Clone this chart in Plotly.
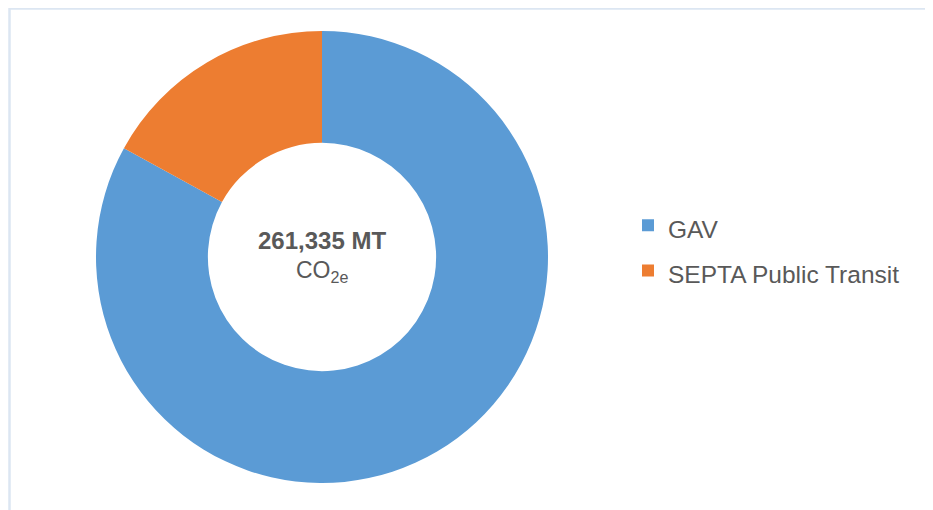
import plotly.graph_objects as go

labels = ["GAV", "SEPTA Public Transit"]
values = [216900, 44435]
colors = ["#5B9BD5", "#ED7D31"]
total_label = "261,335 MT"
unit_label = "CO<sub>2e</sub>"

W, H = 933, 510
# page body has an 8px margin; positions below are in figure pixels
cx, cy, R = 314, 249, 226
text_size = 24.5
legend_labels = [f"<span style='font-size:{text_size}px'>{l}</span>" for l in labels]

fig = go.Figure(go.Pie(
    labels=legend_labels, values=values, hole=0.505, sort=False,
    direction="clockwise", rotation=0,
    marker=dict(colors=colors, line=dict(width=0)),
    textinfo="none", hoverinfo="label+value+percent",
    domain=dict(x=[(cx - R) / W, (cx + R) / W], y=[1 - (cy + R) / H, 1 - (cy - R) / H]),
))

font = "Liberation Sans, Arial, sans-serif"
fig.update_layout(
    width=W, height=H, margin=dict(l=0, r=0, t=0, b=0),
    paper_bgcolor="white", plot_bgcolor="white",
    font=dict(family=font, color="#595959"),
    legend=dict(x=620 / W, y=1 - 240 / H, xanchor="left", yanchor="middle",
                font=dict(size=32.5, color="#595959", family=font),
                bgcolor="rgba(0,0,0,0)"),
    shapes=[dict(type="rect", xref="paper", yref="paper",
                 x0=1.5 / W, x1=1.02, y0=-0.02, y1=1 - 0.5 / H,
                 line=dict(color="#DCE6F2", width=2.5), fillcolor="rgba(0,0,0,0)", layer="below")],
    annotations=[
        dict(x=cx / W, y=1 - 233 / H, xref="paper", yref="paper", showarrow=False,
             text="<b>" + total_label + "</b>", font=dict(size=24, color="#595959", family=font)),
        dict(x=cx / W, y=1 - 263 / H, xref="paper", yref="paper", showarrow=False,
             text=unit_label, font=dict(size=23, color="#595959", family=font)),
    ],
)

fig.write_html("out.html")
